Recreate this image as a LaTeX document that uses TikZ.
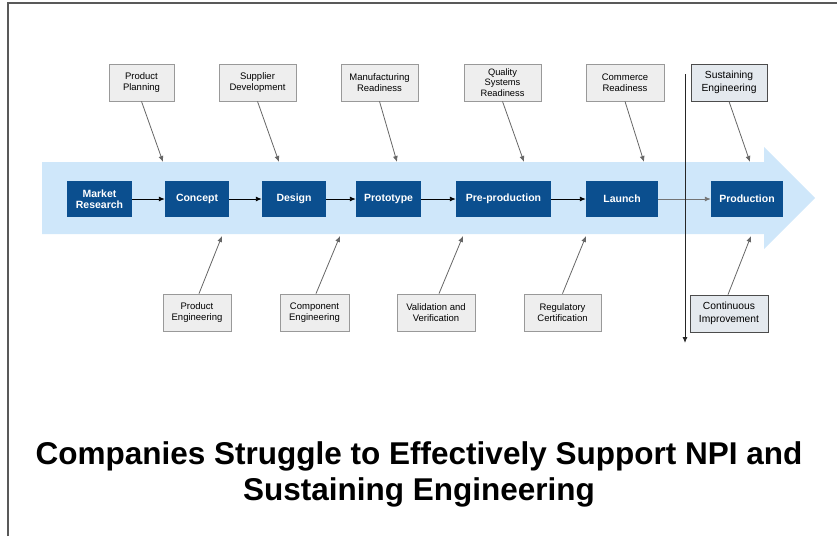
\documentclass[tikz,border=0pt]{standalone}
\usepackage{fontspec}
\setmainfont{Liberation Sans}
\usetikzlibrary{arrows.meta}
\definecolor{band}{HTML}{CFE7FA}
\definecolor{darkblue}{HTML}{0B4F8F}
\definecolor{labfill}{HTML}{EEEEEE}
\definecolor{labdraw}{HTML}{999999}
\definecolor{sefill}{HTML}{E4E9EE}
\definecolor{conn}{HTML}{666666}
\tikzset{
  stepbox/.style={fill=darkblue, draw=none, text=white, font=\bfseries\fontsize{10.5}{12}\selectfont, align=center, minimum height=36pt, inner sep=0pt},
  labbox/.style={fill=labfill, draw=labdraw, line width=0.8pt, font=\fontsize{9.5}{11.5}\selectfont, align=center, minimum height=37pt, inner sep=0pt},
  sebox/.style={fill=sefill, draw=black!70, line width=0.8pt, font=\fontsize{10.3}{12.5}\selectfont, align=center, minimum height=37pt, inner sep=0pt},
  flow/.style={-{Latex[length=6pt,width=5pt]}, line width=0.9pt, black},
  feed/.style={-{Latex[length=6pt,width=5pt]}, line width=0.8pt, conn},
  titletext/.style={font=\bfseries\fontsize{31.5}{36}\selectfont}
}
\begin{document}
\begin{tikzpicture}[x=1pt,y=-1pt]
\useasboundingbox (0,0) rectangle (837,536);
% frame
\draw[line width=1.6pt, black!65] (8,536) -- (8,3) -- (837,3);
% band arrow
\fill[band] (42,162) -- (764,162) -- (764,147) -- (815,198) -- (764,249) -- (764,234) -- (42,234) -- cycle;
% process steps
\node[stepbox, minimum width=65pt] (mr) at (99.5,199) {Market\\[-1pt]Research};
\node[stepbox, minimum width=64pt] (concept) at (197,199) {Concept};
\node[stepbox, minimum width=64pt] (design) at (294,199) {Design};
\node[stepbox, minimum width=65pt] (proto) at (388.5,199) {Prototype};
\node[stepbox, minimum width=95pt] (pre) at (503.5,199) {Pre-production};
\node[stepbox, minimum width=72pt] (launch) at (622,199) {Launch};
\node[stepbox, minimum width=72pt] (prod) at (747,199) {Production};
\draw[flow] (mr) -- (concept);
\draw[flow] (concept) -- (design);
\draw[flow] (design) -- (proto);
\draw[flow] (proto) -- (pre);
\draw[flow] (pre) -- (launch);
\draw[flow, black!55] (launch) -- (prod);
% top labels
\node[labbox, minimum width=65pt] (pp) at (141.5,82.5) {Product\\Planning};
\node[labbox, minimum width=77pt] (sd) at (257.5,82.5) {Supplier\\Development};
\node[labbox, minimum width=77pt] (mfg) at (379.5,82.5) {Manufacturing\\Readiness};
\node[labbox, minimum width=77pt, font=\fontsize{9.3}{10.8}\selectfont] (qsr) at (502.5,82.5) {Quality\\Systems\\Readiness};
\node[labbox, minimum width=78pt] (cr) at (625,82.5) {Commerce\\Readiness};
\node[sebox, minimum width=76pt] (se) at (729,82.5) {Sustaining\\Engineering};
% bottom labels
\node[labbox, minimum width=68pt] (pe) at (197,312.5) {Product\\Engineering};
\node[labbox, minimum width=69pt] (ce) at (314.5,312.5) {Component\\Engineering};
\node[labbox, minimum width=78pt] (vv) at (436,312.5) {Validation and\\Verification};
\node[labbox, minimum width=77pt] (rc) at (562.5,312.5) {Regulatory\\Certification};
\node[sebox, minimum width=78pt] (ci) at (729,313.5) {Continuous\\Improvement};
% feed targets
\coordinate (ppE) at (163,162);
\coordinate (sdE) at (279,162);
\coordinate (mfgE) at (397,162);
\coordinate (qsrE) at (524,162);
\coordinate (crE) at (644,162);
\coordinate (seE) at (750,162);
\coordinate (peE) at (222,236);
\coordinate (ceE) at (340,236);
\coordinate (vvE) at (463,236);
\coordinate (rcE) at (586,236);
\coordinate (ciE) at (751,236);
\draw[feed] (pp.south) -- (ppE);
\draw[feed] (sd.south) -- (sdE);
\draw[feed] (mfg.south) -- (mfgE);
\draw[feed] (qsr.south) -- (qsrE);
\draw[feed] (cr.south) -- (crE);
\draw[feed] (se.south) -- (seE);
\draw[feed] ([xshift=2pt]pe.north) -- (peE);
\draw[feed] ([xshift=1.5pt]ce.north) -- (ceE);
\draw[feed] ([xshift=3pt]vv.north) -- (vvE);
\draw[feed] (rc.north) -- (rcE);
\draw[feed] ([xshift=-1pt]ci.north) -- (ciE);
% vertical divider
\coordinate (vtop) at (685,74);
\coordinate (vbot) at (685,343);
\draw[-{Latex[length=6pt,width=5pt]}, line width=0.9pt, black!85] (vtop) -- (vbot);
% title
\node[titletext] (t1) at (419,456) {Companies Struggle to Effectively Support NPI and};
\node[titletext] (t2) at (419,492) {Sustaining Engineering};
\end{tikzpicture}
\end{document}
